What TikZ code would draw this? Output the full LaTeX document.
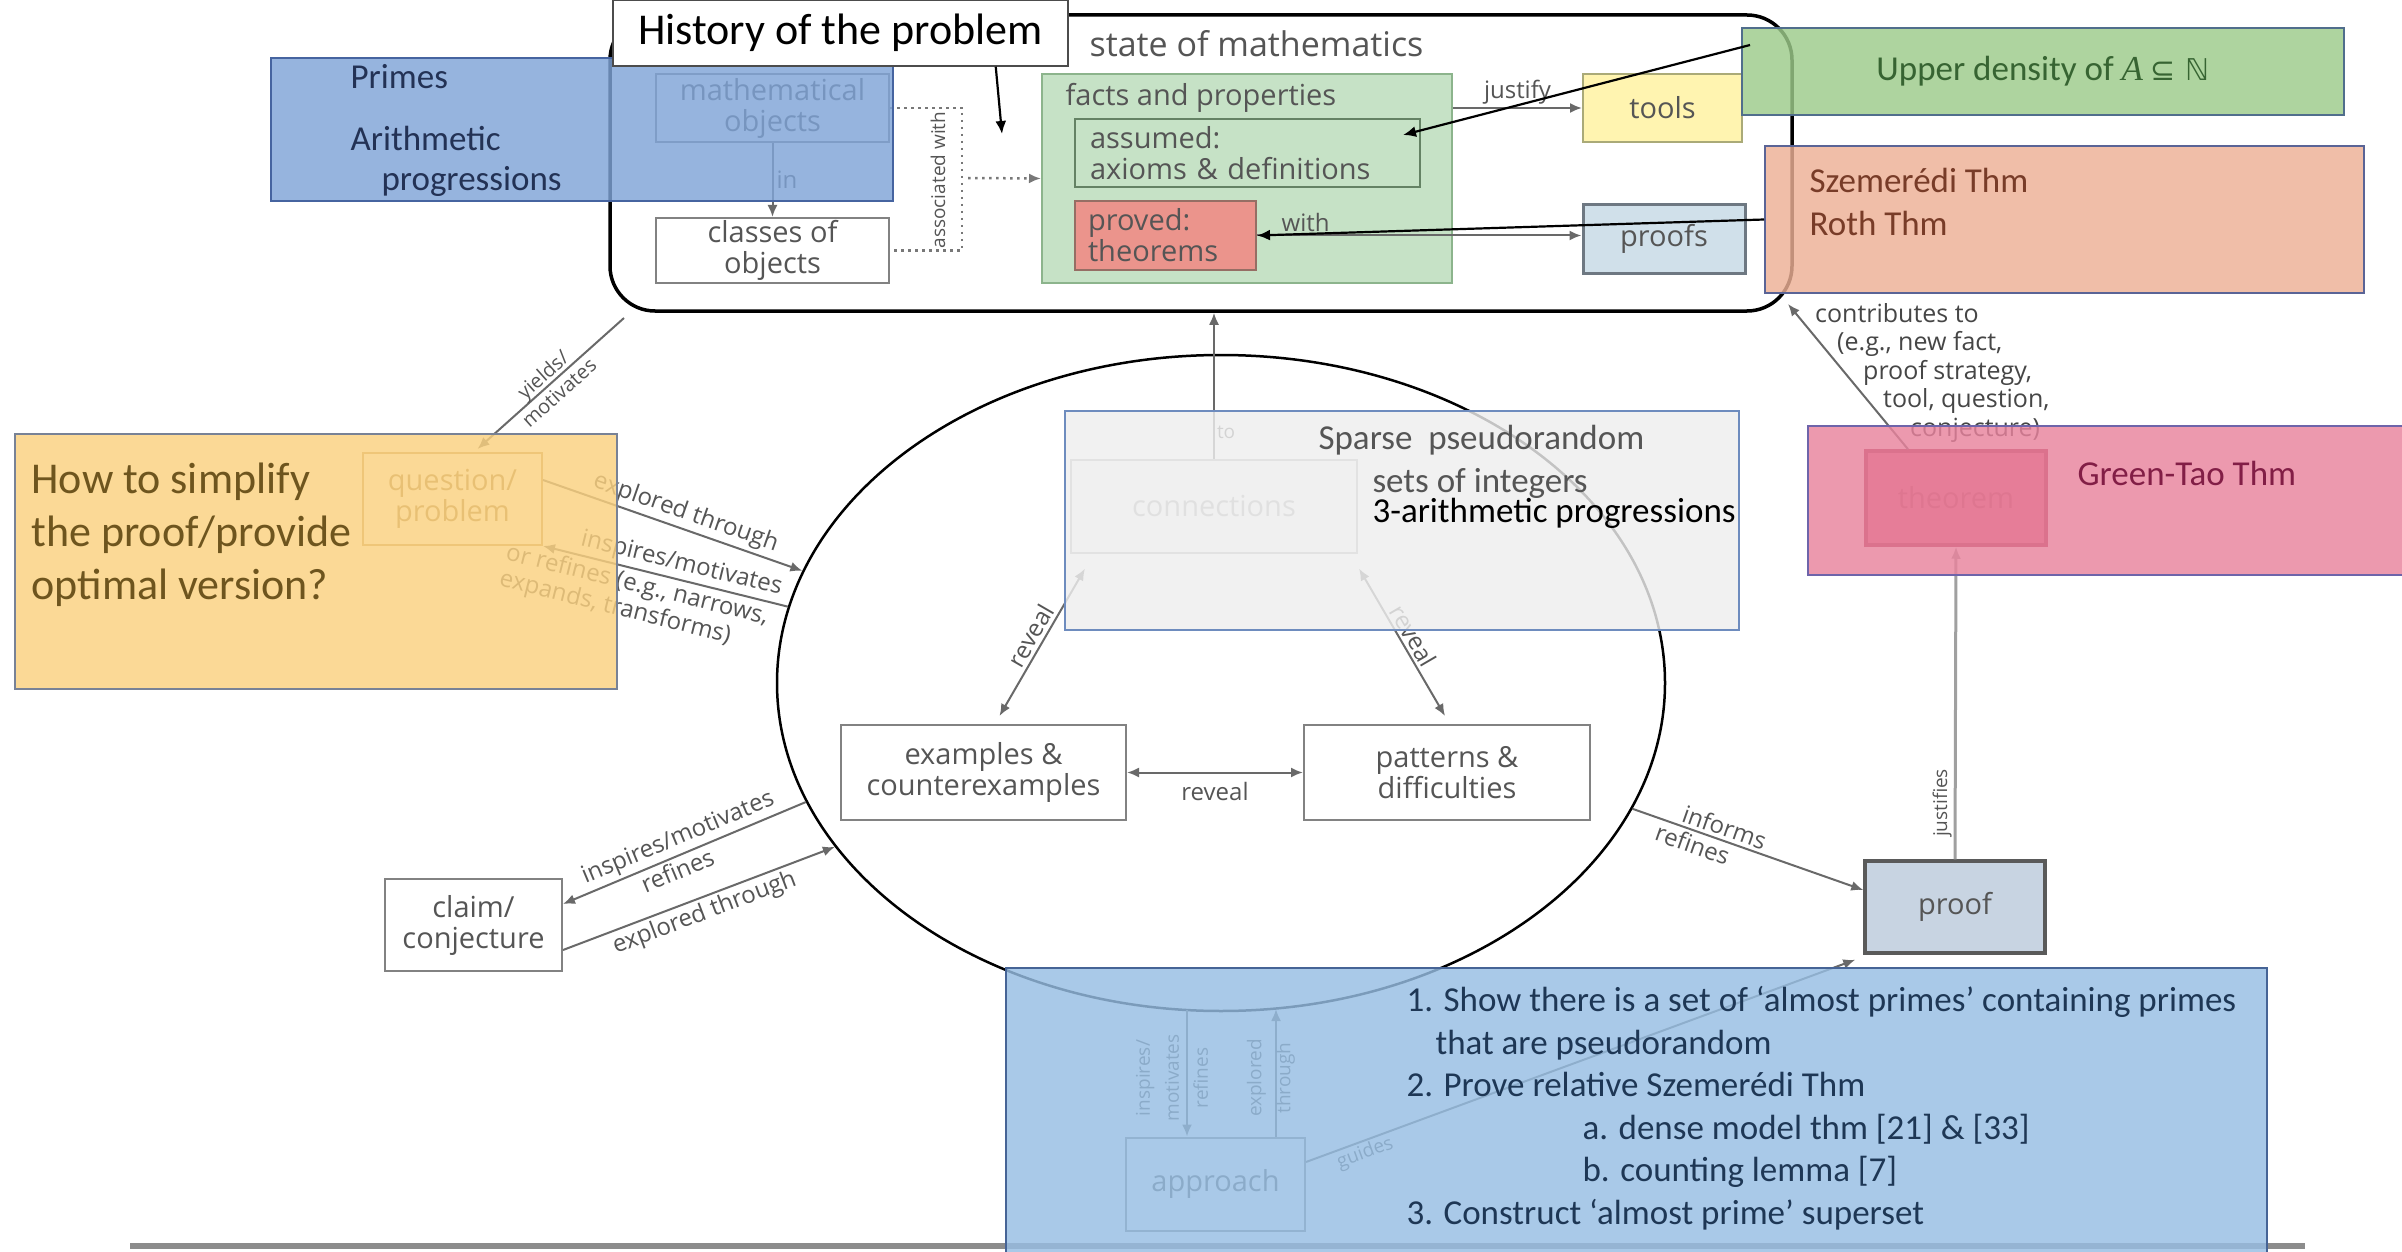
\documentclass[tikz,border=0pt]{standalone}
\usepackage{fontspec}
\newfontfamily\osans{Open Sans}
\newfontfamily\calib{Carlito}
\newfontfamily\djv{DejaVu Sans}
\newfontfamily\lserif{Liberation Serif}
\usetikzlibrary{shapes.geometric,arrows.meta,calc}
\newcommand\lblfont{\osans\fontsize{29}{31}\selectfont}
\newcommand\somfont{\osans\fontsize{34}{40}\selectfont}
\newcommand\edgefont{\osans\fontsize{24}{27}\selectfont}
\newcommand\smallfont{\osans\fontsize{19}{29}\selectfont}
\newcommand\ovfont{\calib\fontsize{35}{42.5}\selectfont}
\newcommand\bigfont{\calib\fontsize{44}{53}\selectfont}
\definecolor{boxline}{RGB}{130,130,130}
\definecolor{lbltext}{RGB}{85,85,85}
\definecolor{ctext}{RGB}{70,70,70}
\definecolor{edgegray}{RGB}{105,105,105}
\definecolor{edgelight}{RGB}{160,160,160}
\definecolor{dotgray}{RGB}{120,120,120}
\definecolor{linegray}{RGB}{140,140,140}
\definecolor{factsfill}{RGB}{198,226,198}
\definecolor{factsline}{RGB}{140,180,140}
\definecolor{assumedline}{RGB}{100,130,100}
\definecolor{provedfill}{RGB}{235,148,140}
\definecolor{provedline}{RGB}{150,110,100}
\definecolor{toolsfill}{RGB}{255,244,176}
\definecolor{toolsline}{RGB}{170,170,120}
\definecolor{proofsfill}{RGB}{208,224,234}
\definecolor{proofsline}{RGB}{110,120,130}
\definecolor{prooffill}{RGB}{200,212,226}
\definecolor{proofline}{RGB}{90,90,90}
\definecolor{thmfill}{RGB}{226,100,130}
\definecolor{thmline}{RGB}{160,40,70}
\definecolor{thmtext}{RGB}{180,60,90}
\definecolor{connfill}{RGB}{245,245,245}
\definecolor{connline}{RGB}{170,170,170}
\definecolor{conntext}{RGB}{160,160,160}
\definecolor{questline}{RGB}{190,150,90}
\definecolor{questtext}{RGB}{150,120,70}
\definecolor{primefill}{RGB}{127,164,215}
\definecolor{primeline}{RGB}{70,100,160}
\definecolor{primetext}{RGB}{35,50,85}
\definecolor{orfill}{RGB}{251,209,127}
\definecolor{orline}{RGB}{120,130,150}
\definecolor{ortext}{RGB}{110,85,30}
\definecolor{upfill}{RGB}{157,203,139}
\definecolor{upline}{RGB}{80,110,140}
\definecolor{uptext}{RGB}{55,100,50}
\definecolor{szfill}{RGB}{237,176,149}
\definecolor{szline}{RGB}{90,100,150}
\definecolor{sztext}{RGB}{120,60,40}
\definecolor{spfill}{RGB}{239,239,239}
\definecolor{spline}{RGB}{110,140,190}
\definecolor{gtfill}{RGB}{232,131,157}
\definecolor{gtline}{RGB}{110,100,170}
\definecolor{gttext}{RGB}{130,30,70}
\definecolor{apfill}{RGB}{151,190,227}
\definecolor{apline}{RGB}{70,100,150}
\definecolor{aptext}{RGB}{30,55,85}
\begin{document}
\begin{tikzpicture}[x=1pt,y=-1pt,
  >={Latex[length=12pt,width=10pt]},
  box/.style={draw=boxline, line width=2pt, rectangle, inner sep=2pt, font=\lblfont, text=lbltext, align=center},
  edge/.style={draw=edgegray, line width=2pt},
  dotline/.style={draw=dotgray, line width=2.5pt, dash pattern=on 2.5pt off 4.5pt},
  elabel/.style={font=\edgefont, text=lbltext, inner sep=3pt},
  slabel/.style={font=\smallfont, text=lbltext, inner sep=2pt},
  ovbox/.style={line width=2pt, fill opacity=0.82, text opacity=1, inner sep=0pt},
  blk/.style={draw=black, line width=2.2pt, -{Latex[length=13pt,width=11pt]}},
]
\fill[white] (0,0) rectangle (2402,1252);
\useasboundingbox (0,0) rectangle (2402,1252);

% bottom shadow line
\draw[line width=6pt, draw=linegray] (130,1246) -- (2305,1246);

% state of mathematics
\node[draw=black, line width=3.5pt, rounded corners=45pt, minimum width=1182pt, minimum height=296pt, inner sep=0pt] (som) at (1201,163) {};
\node[anchor=west, font=\somfont, text=lbltext] (somlbl) at (1086,44) {state of mathematics};

\node[box, minimum width=233pt, minimum height=68pt] (mathobj) at (772.5,108) {mathematical\\objects};
\node[box, minimum width=233pt, minimum height=65pt] (classes) at (772.5,250.5) {classes of\\objects};
\draw[edge,->] (mathobj) -- (classes) node[midway, right, elabel] (inlbl) {in};

\node[box, draw=factsline, fill=factsfill, minimum width=410pt, minimum height=209pt] (facts) at (1247,178.5) {};
\node[anchor=west, font=\lblfont, text=lbltext] (factslbl) at (1062,98) {facts and properties};
\node[box, draw=assumedline, minimum width=345pt, minimum height=68pt, align=left, text width=315pt] (assumed) at (1247.5,153) {assumed:\\axioms \& definitions};
\node[box, draw=provedline, fill=provedfill, minimum width=181pt, minimum height=69pt, align=left, text width=155pt] (proved) at (1165.5,235.5) {proved:\\theorems};

\coordinate (asx) at (962,0);
\coordinate (asm) at (968,178);
\draw[dotline] (mathobj.east) -- (mathobj.east -| asx) -- (classes.east -| asx) -- (classes.east);
\draw[dotline,->] (asm) -- (facts.west);
\node[slabel, rotate=90] (assoc) at (938,180) {associated with};

\node[box, draw=toolsline, fill=toolsfill, minimum width=159pt, minimum height=68pt] (tools) at (1662.5,108) {tools};
\node[box, draw=proofsline, fill=proofsfill, line width=3pt, minimum width=162pt, minimum height=68pt] (proofs) at (1664,239) {proofs};
\draw[edge,->] (facts.east |- tools.west) -- (tools.west) node[midway, above, elabel] (justlbl) {justify};
\draw[edge,->] (proved.east) -- (proved.east -| proofs.west) node[pos=0.15, above, elabel] (withlbl) {with};

% ellipse and its content
\node[draw=black, line width=2.5pt, ellipse, minimum width=888pt, minimum height=656pt, inner sep=0pt] (ell) at (1221,683) {};
\node[box, fill=connfill, draw=connline, text=conntext, minimum width=286pt, minimum height=93pt] (conn) at (1214,506) {connections};
\draw[edge,->] (conn.north) -- (conn.north |- som.south) node[pos=0.18, right, slabel] (tolbl) {to};
\node[box, minimum width=285pt, minimum height=95pt] (examples) at (983.5,772.5) {examples \&\\counterexamples};
\node[box, minimum width=286pt, minimum height=95pt] (patterns) at (1447,772.5) {patterns \&\\difficulties};
\draw[edge,<->] (examples.east) -- (patterns.west) node[midway, below=6pt, elabel] (rv1) {reveal};
\draw[edge,<->] ($(examples.north)+(16,-8)$) -- ($(conn.south west)+(15,15)$) node[midway, sloped, above, elabel] (rv2) {reveal};
\draw[edge,<->] ($(conn.south east)+(1,15)$) -- ($(patterns.north)+(-2,-8)$) node[midway, sloped, above, elabel] (rv3) {reveal};

% question / problem
\node[box, draw=questline, text=questtext, minimum width=179pt, minimum height=92pt] (question) at (452.5,499) {question/\\problem};
\coordinate (ym) at (624,318);
\draw[edge,->] (ym) -- ($(question.north)+(25,-3)$) node[midway, sloped, slabel, align=center, font=\osans\fontsize{20}{24}\selectfont] (ylbl) {yields/\\motivates};
\draw[edge,->] ($(question.east)+(0,-19)$) -- (ell.165.3) node[pos=0.53, sloped, above, elabel] (exlbl) {explored through};
\draw[edge,<-] (question.south east) -- (ell.170.9)
  node[pos=0.55, sloped, above, elabel] (inslbl) {inspires/motivates}
  node[pos=0.4, sloped, below, elabel, align=left] (reflbl) {or refines (e.g., narrows,\\expands, transforms)};

% claim
\node[box, minimum width=177pt, minimum height=92pt] (claim) at (473.5,925) {claim/\\conjecture};
\draw[edge,<-] ($(claim.east)+(0,-21)$) -- (ell.196.4)
  node[midway, sloped, above, elabel] (cl1) {inspires/motivates}
  node[pos=0.45, sloped, below, elabel] (cl2) {refines};
\draw[edge,->] ($(claim.east)+(0,25)$) -- (ell.203.4) node[pos=0.5, sloped, below, elabel] (cl3) {explored through};

% theorem / proof
\node[box, draw=proofline, fill=prooffill, line width=3.5pt, minimum width=180pt, minimum height=92pt] (proof) at (1955,907) {proof};
\node[box, draw=thmline, fill=thmfill, line width=3.5pt, text=thmtext, minimum width=180pt, minimum height=94pt] (thm) at (1956,498) {theorem};
\draw[edge,->, draw=edgelight, line width=3pt] (proof.north) -- (thm.south) node[pos=0.18, sloped, above, slabel] (jlbl) {justifies};
\draw[edge,->] (ell.343.3) -- ($(proof.west)+(0,-17)$)
  node[pos=0.38, sloped, above, elabel] (inf1) {informs}
  node[pos=0.28, sloped, below, elabel] (inf2) {refines};
\coordinate (ct) at (1788,304);
\draw[edge,->] ($(thm.north)+(-48,0)$) -- (ct);
\node[anchor=north west, inner sep=0pt, align=left, font=\osans\fontsize{25}{28.5}\selectfont, text=ctext] (ctlbl) at (1815,303)
  {contributes to\\\hspace*{22pt}(e.g., new fact,\\\hspace*{48pt}proof strategy,\\\hspace*{68pt}tool, question,\\\hspace*{95pt}conjecture)};

% approach
\node[box, minimum width=179pt, minimum height=93pt] (app) at (1215.5,1184) {approach};
\coordinate (ad) at (1187,1010);
\coordinate (au) at (1276,1009);
\draw[edge,->] (ad) -- (ad |- app.north);
\draw[edge,->] (au |- app.north) -- (au);
\node[slabel, rotate=90, align=center] (adlbl) at (1172,1078) {inspires/\\motivates\\refines};
\node[slabel, rotate=90, align=center] (aulbl) at (1271,1078) {explored\\through};
\draw[edge,->] ($(app.east)+(0,-22)$) -- ($(proof.south west)+(-8,5)$) node[pos=0.1, sloped, below, slabel] (glbl) {guides};

% ---------- overlays ----------
\node[ovbox, draw=primeline, fill=primefill, minimum width=622pt, minimum height=143pt] (primes) at (582,129.5) {};
\node[anchor=west, font=\ovfont, text=primetext] (pr1) at (347,77) {Primes};
\node[anchor=west, font=\ovfont, text=primetext] (pr2) at (347,138) {Arithmetic};
\node[anchor=west, font=\ovfont, text=primetext] (pr3) at (378,181) {progressions};

\node[ovbox, draw=orline, fill=orfill, minimum width=602pt, minimum height=255pt] (orbox) at (316,561.5) {};
\node[anchor=west, align=left, font=\bigfont, text=ortext] (ortxt) at (28,535) {How to simplify\\the proof/provide\\optimal version?};

\node[ovbox, draw=upline, fill=upfill, minimum width=602pt, minimum height=87pt, font=\ovfont, text=uptext] (upper) at (2043,71.5) {Upper density of {\lserif\itshape A} {\djv\fontsize{30}{36}\selectfont ⊆ ℕ}};

\node[ovbox, draw=szline, fill=szfill, minimum width=599pt, minimum height=147pt] (szem) at (2064.5,219.5) {};
\node[anchor=west, align=left, font=\ovfont, text=sztext] (sztxt) at (1806,202) {Szemerédi Thm\\Roth Thm};

\node[ovbox, draw=spline, fill=spfill, minimum width=674pt, minimum height=219pt] (sparse) at (1402,520.5) {};
\node[anchor=west, font=\ovfont, text=lbltext] (sp1) at (1315,440) {Sparse\ \ pseudorandom};
\node[anchor=west, font=\ovfont, text=lbltext] (sp2) at (1369,483) {sets of integers};
\node[anchor=west, font=\ovfont, text=black] (sp3) at (1369,513) {3-arithmetic progressions};

\node[ovbox, draw=gtline, fill=gtfill, minimum width=598pt, minimum height=149pt] (gt) at (2107,500.5) {};
\node[anchor=west, font=\ovfont, text=gttext] (gttxt) at (2074,473) {Green-Tao Thm};

\node[ovbox, draw=apline, fill=apfill, minimum width=1261pt, minimum height=290pt] (apbox) at (1636.5,1113) {};
\node[anchor=west, align=left, font=\ovfont, text=aptext] (aptxt) at (1403,1108)
  {1. Show there is a set of ‘almost primes’ containing primes\\
   \hspace*{29pt}that are pseudorandom\\
   2. Prove relative Szemerédi Thm\\
   \hspace*{176pt}a. dense model thm [21] \& [33]\\
   \hspace*{176pt}b. counting lemma [7]\\
   3. Construct ‘almost prime’ superset};

% history box and black arrows on top
\node[draw=black!70, fill=white, line width=1.5pt, minimum width=455pt, minimum height=66pt, font=\bigfont, text=black] (hist) at (840.5,33) {History of the problem};
\coordinate (hend) at (1002,134);
\draw[blk] ($(hist.south east)+(-73,0)$) -- (hend);
\draw[blk] ($(upper.north west)+(9,18)$) -- ($(assumed.east)+(-18,-18)$);
\draw[blk] (szem.west) -- (proved.east);
\end{tikzpicture}
\end{document}
